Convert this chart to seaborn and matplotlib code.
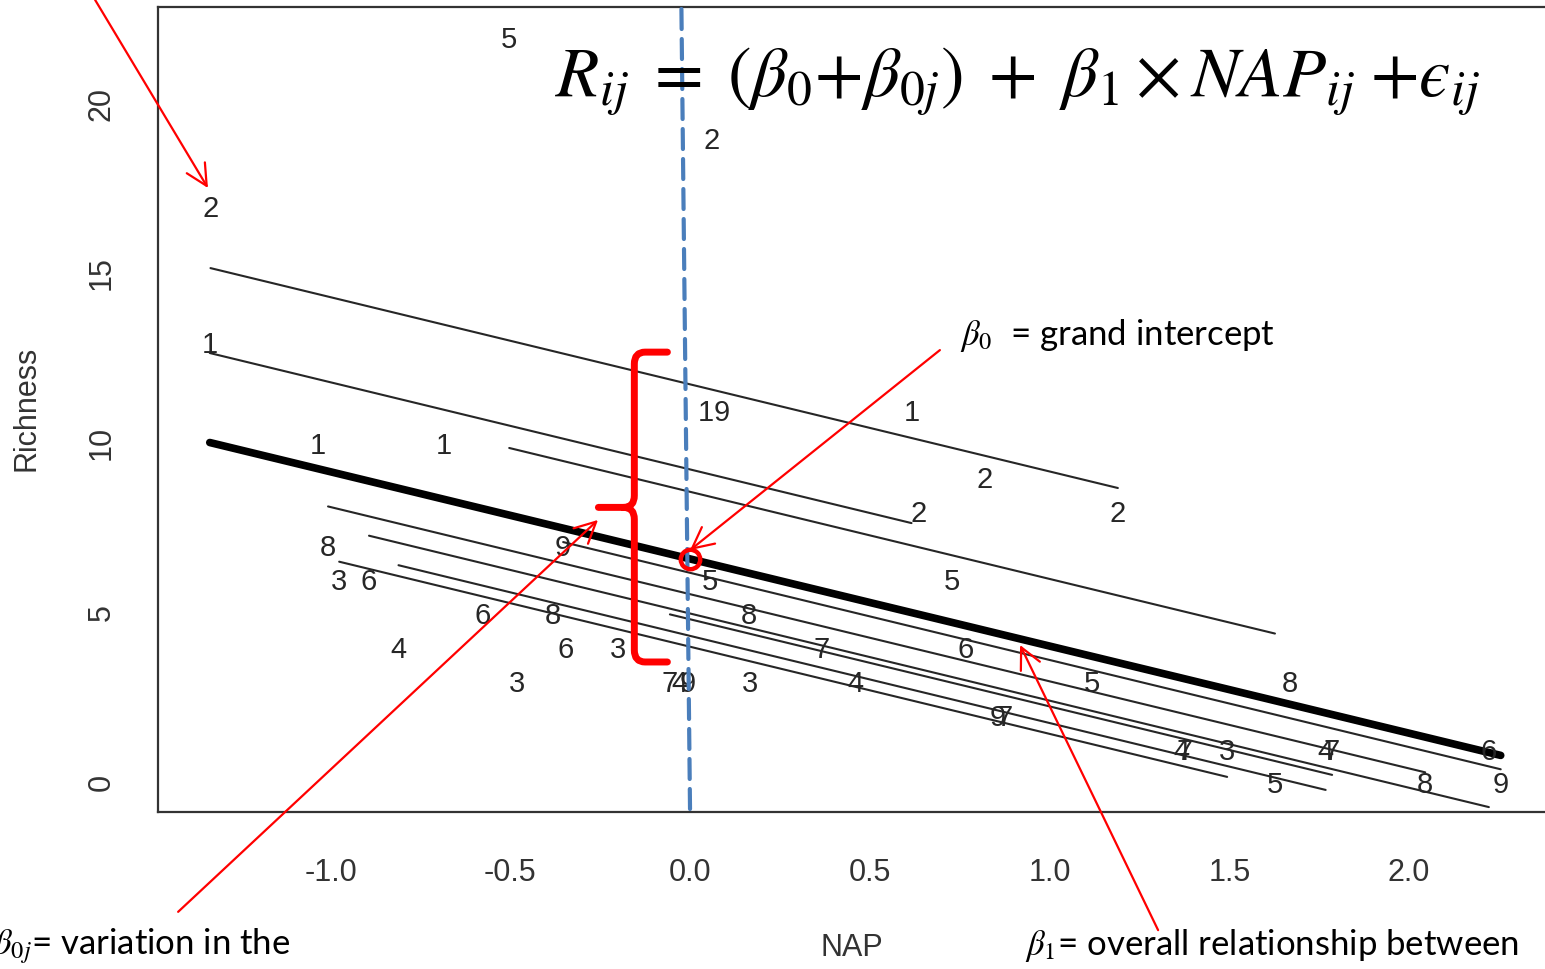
import numpy as np
import pandas as pd
import matplotlib
matplotlib.use("Agg")
import matplotlib.pyplot as plt
from matplotlib.path import Path
from matplotlib.patches import PathPatch
from matplotlib.transforms import offset_copy
import seaborn as sns

# RIKZ beach samples: NAP height, species richness and beach id
nap = [0.045, -1.036, -1.336, 0.616, -0.684,
       1.190, 0.820, 0.635, 0.061, -1.334,
       -0.976, 1.494, -0.201, -0.482, 0.167,
       1.768, -0.030, 0.460, 1.367, -0.811,
       1.117, -0.503, 0.729, 1.627, 0.054,
       -0.578, -0.346, 2.222, -0.893, 0.766,
       -0.056, 0.366, 0.876, 1.375, 1.786,
       -1.007, -0.381, 0.164, 1.669, 2.045,
       -0.353, 0.089, -0.006, 0.857, 2.255]
richness = [11, 10, 13, 11, 10,
            8, 9, 8, 19, 17,
            6, 1, 4, 3, 3,
            1, 3, 3, 1, 4,
            3, 22, 6, 0, 6,
            5, 4, 1, 6, 4,
            3, 4, 2, 1, 1,
            7, 5, 5, 3, 0,
            7, 11, 3, 2, 0]
beach = [1] * 5 + [2] * 5 + [3] * 5 + [4] * 5 + [5] * 5 + [6] * 5 + [7] * 5 + [8] * 5 + [9] * 5

# random-intercept model: fixed effects and per-beach intercepts (beta0 + beta0j)
beta0 = 6.58
beta1 = -2.57
beach_ids = [1, 2, 3, 4, 5, 6, 7, 8, 9]
beach_intercepts = [9.22, 11.73, 3.99, 4.31, 8.56, 4.97, 4.80, 5.54, 6.17]

x_ticks = [-1.0, -0.5, 0.0, 0.5, 1.0, 1.5, 2.0]
y_ticks = [0, 5, 10, 15, 20]

df = pd.DataFrame({"NAP": nap, "Richness": richness, "Beach": beach})
icpt = dict(zip(beach_ids, beach_intercepts))
df["fit"] = df["Beach"].map(icpt) + beta1 * df["NAP"]
df["fixed"] = beta0 + beta1 * df["NAP"]

sns.set_theme(style="white")
plt.rcParams["font.family"] = ["Liberation Sans", "DejaVu Sans"]
plt.rcParams["mathtext.fontset"] = "stix"

W, H = 1545, 969
fig = plt.figure(figsize=(W / 100, H / 100), dpi=100)
ax = fig.add_axes([158 / W, 1 - 812 / H, (1555 - 158) / W, (812 - 7) / H])

ink = "#262626"
# beach-specific fitted lines
sns.lineplot(data=df, x="NAP", y="fit", units="Beach", estimator=None,
             color=ink, lw=1.5, sort=True, ax=ax, legend=False)
# population-level line
sns.lineplot(data=df.sort_values("NAP"), x="NAP", y="fixed", estimator=None,
             color="black", lw=5.5, ax=ax, legend=False)

# each observation is drawn as its beach number
label_tr = offset_copy(ax.transData, fig=fig, x=0, y=-3.5, units="dots")
for x, y, b in zip(df["NAP"], df["Richness"], df["Beach"]):
    ax.text(x, y, str(b), ha="center", va="center", fontsize=21, color=ink,
            transform=label_tr)

ax.set_xlim(-1.480, 2.406)
ax.set_ylim(-0.885, 22.86)
ax.set_xticks(x_ticks)
ax.set_xticklabels([f"{t:.1f}" for t in x_ticks])
ax.set_yticks(y_ticks)
ax.set_yticklabels([str(t) for t in y_ticks])
for s in ax.spines.values():
    s.set_color("#333333")
    s.set_linewidth(1.6)
ax.tick_params(axis="both", direction="out", length=13, width=1.5, color="#333333",
               labelsize=22, labelcolor="#333333", pad=17)
ax.tick_params(axis="x", pad=20)
ax.tick_params(axis="y", labelrotation=90)
for lbl in ax.get_yticklabels():
    lbl.set_va("center")
ax.set_xlabel("NAP", fontsize=22, color="#333333")
ax.set_ylabel("Richness", fontsize=22, color="#333333")
ax.xaxis.set_label_coords((852 - 158) / 1397, (812 - 948) / 805)
ax.xaxis.label.set_va("center")
ax.yaxis.set_label_coords((27 - 158) / 1397, (812 - 408) / 805)
ax.yaxis.label.set_va("center")

# vertical reference at NAP = 0
ax.annotate("", xy=(0.0, -0.885), xytext=(-0.024, 22.8), annotation_clip=False,
            arrowprops=dict(arrowstyle="-", color="#4a7ebb", lw=3,
                            linestyle=(0, (4.8, 2.4)), shrinkA=0, shrinkB=0))

red = "#ff0000"
# grand intercept marker
ax.plot([0.0], [beta0], marker="o", ms=14, mfc="none", mec=red, mew=3.2, zorder=5)

# curly brace spanning the beach intercepts
xs, x_r, x_t = -0.155, -0.063, -0.255
y_top, y_mid, y_bot = 12.68, 8.10, 3.54
dx, dy = 0.03, 0.35
verts = [(x_r, y_top), (xs + dx, y_top), (xs, y_top), (xs, y_top - dy),
         (xs, y_mid + dy), (xs, y_mid), (xs - dx, y_mid), (x_t, y_mid),
         (xs - dx, y_mid), (xs, y_mid), (xs, y_mid - dy),
         (xs, y_bot + dy), (xs, y_bot), (xs + dx, y_bot), (x_r, y_bot)]
codes = [Path.MOVETO, Path.LINETO, Path.CURVE3, Path.CURVE3,
         Path.LINETO, Path.CURVE3, Path.CURVE3, Path.LINETO,
         Path.MOVETO, Path.CURVE3, Path.CURVE3,
         Path.LINETO, Path.CURVE3, Path.CURVE3, Path.LINETO]
ax.add_patch(PathPatch(Path(verts, codes), fill=False, ec=red, lw=5,
                       capstyle="round", joinstyle="round", clip_on=False, zorder=6))

arrow = dict(arrowstyle="->", color=red, lw=1.6, mutation_scale=38, shrinkA=0, shrinkB=0)
for head, tail in [((-1.341, 17.52), (-1.655, 23.07)),
                   ((0.0, 6.84), (0.695, 12.74)),
                   ((-0.256, 7.73), (-1.424, -3.83)),
                   ((0.918, 4.04), (1.302, -4.37))]:
    ax.annotate("", xy=head, xytext=tail, arrowprops=arrow, annotation_clip=False, zorder=7)

note_font = dict(family=["Lato", "DejaVu Sans"], color="black", fontsize=25)
fig.text(960 / W, 1 - 336 / H, r"$\beta_0$  = grand intercept", ha="left", va="center", **note_font)
fig.text(-8 / W, 1 - 946 / H, r"$\beta_{0j}$= variation in the", ha="left", va="center", **note_font)
fig.text(1025 / W, 1 - 946 / H, r"$\beta_1$= overall relationship between", ha="left", va="center", **note_font)

model_eq = (r"$R_{ij}\;=\;(\beta_0{+}\beta_{0j})\;+\;\beta_1\times NAP_{ij}\;{+}"
            + "\u03f5" + r"_{ij}$")
fig.text(555 / W, 1 - 82 / H, model_eq,
         ha="left", va="center", fontsize=51, color="black")

fig.savefig("out.png", dpi=100)
